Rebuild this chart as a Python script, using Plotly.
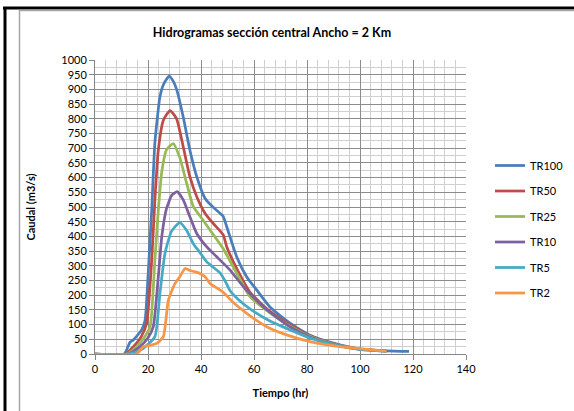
import plotly.graph_objects as go

# ---- data ----
series_names = ["TR100", "TR50", "TR25", "TR10", "TR5", "TR2"]

t_tr100 = [0, 11, 13.2, 14.5, 17.6, 18.9, 20, 21.4, 22.6, 24.5, 26, 28, 29.5, 30.8, 33.3, 35.8, 38.4, 41.5, 44.5, 48.3, 49.7, 53.5, 57.2, 61, 66, 73.6, 81, 90, 100, 110, 118.5]
q_tr100 = [0, 0, 40, 48, 82, 115, 262, 490, 718, 875, 920, 945, 928, 900, 806, 694, 603, 530, 500, 469, 433, 330, 263, 218, 160, 105, 65, 37, 17, 11, 9]

t_tr50 = [0, 11.5, 14.5, 17.5, 19.5, 21.4, 22.6, 23.9, 25.8, 28.3, 30.8, 33.3, 35.8, 38.4, 41.5, 44.6, 48.4, 49.7, 53.5, 58.5, 66, 73.6, 81, 90, 100, 110]
q_tr50 = [0, 0, 25, 60, 105, 320, 524, 694, 795, 828, 800, 705, 603, 535, 479, 444, 405, 365, 290, 210, 145, 100, 62, 35, 17, 10]

t_tr25 = [0, 12, 15.7, 18.5, 20.8, 22.6, 23.9, 25.2, 27, 29.5, 32, 34.6, 37.1, 39.6, 43.4, 48.4, 53.5, 58.5, 66, 73.6, 81, 90, 100, 110]
q_tr25 = [0, 0, 25, 55, 93, 320, 490, 620, 695, 716, 668, 580, 501, 470, 422, 358, 274, 195, 140, 95, 60, 34, 17, 10]

t_tr10 = [0, 12.5, 17, 20, 22, 23.9, 25.2, 27, 29, 31, 33.3, 35.8, 38.4, 42.1, 45.9, 50.9, 56, 63.5, 73.6, 81, 90, 100, 110]
q_tr10 = [0, 0, 25, 55, 93, 263, 399, 495, 540, 552, 524, 467, 410, 365, 331, 286, 229, 161, 92, 58, 33, 16, 10]

t_tr5 = [0, 13, 18.2, 22.6, 24.5, 26.4, 28.9, 32, 34.6, 37.1, 39.6, 42, 44.6, 47.2, 49, 51, 54.7, 59, 66, 73.6, 81, 90, 100, 110]
q_tr5 = [0, 0, 19, 59, 206, 342, 418, 447, 420, 375, 345, 315, 295, 276, 250, 215, 180, 150, 112, 82, 55, 32, 16, 10]

t_tr2 = [0, 15.7, 18.2, 21, 23.3, 25.8, 27.7, 30.2, 32, 34, 35.8, 37.5, 39.6, 41.5, 43.4, 48.4, 52.2, 58.5, 64.8, 72.3, 81.1, 92.5, 102.5, 110]
q_tr2 = [0, 0, 25, 30, 36, 59, 184, 240, 263, 291, 284, 280, 274, 263, 240, 210, 175, 130, 93, 65, 42, 25, 16, 10]

x_ticks = [0, 20, 40, 60, 80, 100, 120, 140]
y_ticks = list(range(0, 1001, 50))

# ---- styling ----
colors = ["#4A7EBB", "#BE4B48", "#98B954", "#7D60A0", "#46AAC5", "#F79646"]
FONT = "Lato, 'Open Sans', sans-serif"

data = [(t_tr100, q_tr100), (t_tr50, q_tr50), (t_tr25, q_tr25),
        (t_tr10, q_tr10), (t_tr5, q_tr5), (t_tr2, q_tr2)]

fig = go.Figure()
for name, (t, q), c in zip(series_names, data, colors):
    fig.add_trace(go.Scatter(
        x=t, y=q, mode="lines", name=name, legendgroup=name,
        line=dict(color=c, width=2.75, shape="spline", smoothing=0.5),
    ))

W, H = 574, 411
L, R, T, B = 95, 108, 60, 57
pw, ph = W - L - R, H - T - B


def px_x(px):
    return (px - L) / pw


def px_y(py):
    return (H - B - py) / ph


fig.update_layout(
    width=W, height=H,
    margin=dict(l=L, r=R, t=T, b=B, autoexpand=False),
    paper_bgcolor="white", plot_bgcolor="white",
    font=dict(family=FONT, size=11, color="#000000"),
    title=dict(text="<b>Hidrogramas sección central Ancho = 2 Km</b>",
               x=px_x(272), xanchor="center", xref="paper",
               y=1 - 33 / H, yanchor="middle",
               font=dict(size=12.5, family=FONT)),
    showlegend=True,
    legend=dict(x=px_x(490), xanchor="left", y=px_y(151), yanchor="top",
                font=dict(size=11, family=FONT), tracegroupgap=6.5,
                bgcolor="rgba(0,0,0,0)"),
    xaxis=dict(
        range=[0, 140], tickvals=x_ticks, ticks="outside", ticklen=5,
        tickcolor="#868686", showline=True, linecolor="#868686", linewidth=1,
        showgrid=True, gridcolor="#8c8c8c", gridwidth=1, zeroline=False,
        minor=dict(dtick=4, showgrid=True, gridcolor="#cfcfcf", gridwidth=1, ticks=""),
        title=dict(text="<b>Tiempo (hr)</b>", font=dict(size=11), standoff=15),
        tickfont=dict(size=11), automargin=False,
    ),
    yaxis=dict(
        range=[0, 1000], tickvals=y_ticks, ticks="outside", ticklen=5,
        tickcolor="#868686", showline=True, linecolor="#868686", linewidth=1,
        showgrid=True, gridcolor="#8c8c8c", gridwidth=1, zeroline=False,
        minor=dict(dtick=25, showgrid=True, gridcolor="#cfcfcf", gridwidth=1, ticks=""),
        title=dict(text="<b>Caudal (m3/s)</b>", font=dict(size=11), standoff=23),
        tickfont=dict(size=11), automargin=False,
    ),
)

# frame decorations (black outer edge and grey chart border)
shapes = [
    dict(type="line", xref="paper", yref="paper", x0=px_x(3), x1=px_x(574), y0=px_y(8), y1=px_y(8),
         line=dict(color="black", width=3)),
    dict(type="line", xref="paper", yref="paper", x0=px_x(5), x1=px_x(5), y0=px_y(7), y1=px_y(411),
         line=dict(color="black", width=3)),
    dict(type="line", xref="paper", yref="paper", x0=px_x(19.5), x1=px_x(19.5), y0=px_y(10), y1=px_y(411),
         line=dict(color="#a6a6a6", width=1.5)),
    dict(type="line", xref="paper", yref="paper", x0=px_x(19.5), x1=px_x(574), y0=px_y(10.5), y1=px_y(10.5),
         line=dict(color="#a6a6a6", width=1.5)),
]
fig.update_layout(shapes=shapes)

fig.write_html("out.html", config={"displayModeBar": False},
               post_script="document.body.style.margin='0';")
